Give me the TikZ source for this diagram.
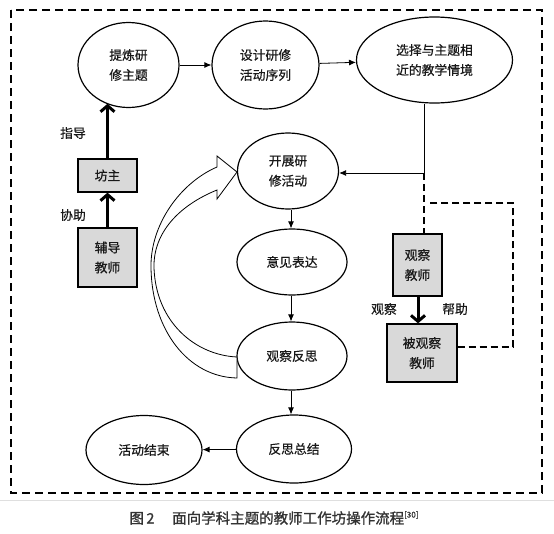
\documentclass[tikz,border=0pt]{standalone}
\usepackage{fontspec}
\newfontfamily\cjk[FakeBold=0.6]{Noto Sans CJK SC}
\newfontfamily\cjkcap[FakeBold=1.2]{Noto Sans CJK SC}
\usetikzlibrary{shapes.geometric,arrows.meta}
\begin{document}
\begin{tikzpicture}[x=1pt,y=-1pt,
  txt/.style={font=\cjk\fontsize{12.8}{20}\selectfont, align=center, text=black!90},
  ell/.style={txt, ellipse, draw, line width=1.2pt, inner sep=0pt},
  gbox/.style={txt, rectangle, draw, fill=gray!30, line width=1.3pt, inner sep=0pt},
  thin arrow/.style={line width=0.8pt, -{Latex[length=7pt,width=6pt]}},
  thick arrow/.style={line width=3pt, -{Straight Barb[length=6pt,width=14pt]}},
  bdash/.style={line width=1.6pt, dash pattern=on 7pt off 4pt},
  lbl/.style={txt}
]
\useasboundingbox (0,0) rectangle (554,533);
% outer border
\draw[line width=1.3pt, dash pattern=on 8pt off 5pt] (11,10) rectangle (542,493);
\draw[gray!25, line width=1pt] (0,500) -- (554,500);

% ellipses
\node[ell, minimum width=101pt, minimum height=85pt] (e1) at (128.5,65) {提炼研\\修主题};
\node[ell, minimum width=107pt, minimum height=88pt] (e2) at (265.5,65) {设计研修\\活动序列};
\node[ell, minimum width=156pt, minimum height=86pt] (e3) at (434.5,60) {选择与主题相\\近的教学情境};
\node[ell, minimum width=101pt, minimum height=76pt] (e4) at (288,171) {开展研\\修活动};
\node[ell, minimum width=110pt, minimum height=66pt] (e5) at (292,262) {意见表达};
\node[ell, minimum width=110pt, minimum height=68pt] (e6) at (292,356) {观察反思};
\node[ell, minimum width=115pt, minimum height=68pt] (e7) at (294,449) {反思总结};
\node[ell, minimum width=116pt, minimum height=69pt] (e8) at (144,450) {活动结束};

% boxes
\node[gbox, minimum width=59pt, minimum height=33pt] (b1) at (107.5,175.5) {坊主};
\node[gbox, minimum width=59pt, minimum height=59pt] (b2) at (107.5,257.5) {辅导\\教师};
\node[gbox, minimum width=49pt, minimum height=62pt] (b3) at (417.5,265) {观察\\教师};
\node[gbox, minimum width=70pt, minimum height=58pt] (b4) at (422,353) {被观察\\教师};

% labels
\node[lbl] (l1) at (73,133) {指导};
\node[lbl] (l2) at (73,215) {协助};
\node[lbl] (l3) at (384,309) {观察};
\node[lbl] (l4) at (455,309) {帮助};

% thin arrows
\draw[thin arrow] (e1) -- (e2);
\draw[thin arrow] (e2) -- (e3);
\coordinate (c1) at (424,173);
\draw[line width=0.8pt] (e3.south -| c1) -- (c1);
\draw[thin arrow] (c1) -- (e4.east |- c1);
\draw[thin arrow] (e4.south -| 291,0) -- (291,0 |- e5.north);
\draw[thin arrow] (e5.south -| 291,0) -- (291,0 |- e6.north);
\draw[thin arrow] (e6.south -| 291,0) -- (291,0 |- e7.north);
\draw[thin arrow] (e7) -- (e8);

% thick arrows
\draw[thick arrow] (b1.north) -- (b1.north |- e1.240);
\draw[thick arrow] (b2.north) -- (b1.south);
\draw[thick arrow] (b3.south -| 418,0) -- (418,0 |- b4.north);

% dashed connectors
\draw[bdash] (c1) -- (c1 |- b3.north);
\coordinate (c2) at (513,347);
\coordinate (c3) at (513,203);
\coordinate (c4) at (428,203);
\draw[bdash] (b4.east |- c2) -- (c2) -- (c3) -- (c4);

% big curved hollow arrow
\draw[line width=0.8pt, fill=white]
  (237,357) .. controls (195,355) and (156,322) .. (154,268)
  .. controls (153,232) and (180,205) .. (217,190)
  -- (217,199) -- (237,172) -- (217,156) -- (217,167)
  .. controls (180,183) and (150,225) .. (151,268)
  .. controls (152,330) and (188,377) .. (237,378) -- cycle;

% caption
\node[font=\cjkcap\fontsize{14.5}{16}\selectfont, text=black!80] (cap) at (274,518)
  {图\,2\quad\ 面向学科主题的教师工作坊操作流程\raisebox{6pt}{\fontsize{8}{9}\selectfont[30]}};
\end{tikzpicture}
\end{document}
